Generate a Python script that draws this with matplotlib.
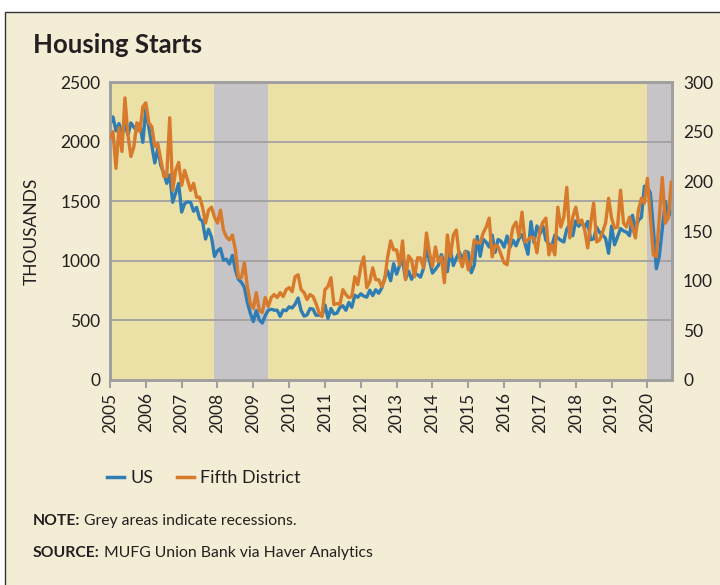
import numpy as np
import matplotlib
matplotlib.use('Agg')
import matplotlib.pyplot as plt
from matplotlib.patches import Rectangle
from matplotlib.lines import Line2D

plt.rcParams['font.family'] = ['Lato', 'DejaVu Sans']

# Monthly data, Jan 2005 - Sep 2020 (thousands of units, SAAR)
start_year = 2005
us = [
    2144, 2207, 2090, 2151, 2065, 2147, 2055, 2156, 2121, 2095, 2150, 1994,  # 2005
    2273, 2119, 1969, 1821, 1942, 1802, 1737, 1650, 1720, 1491, 1570, 1649,  # 2006
    1409, 1480, 1495, 1490, 1415, 1448, 1354, 1330, 1183, 1264, 1197, 1037,  # 2007
    1084, 1103, 1005, 1013, 973, 1046, 923, 844, 820, 777, 652, 560,         # 2008
    490, 582, 505, 478, 540, 585, 594, 586, 585, 534, 588, 581,              # 2009
    614, 604, 636, 687, 583, 536, 546, 599, 594, 543, 545, 539,              # 2010
    630, 517, 600, 554, 561, 608, 623, 585, 650, 610, 711, 694,              # 2011
    723, 704, 695, 753, 708, 757, 728, 771, 854, 915, 833, 976,              # 2012
    888, 962, 1005, 847, 914, 845, 898, 883, 863, 936, 1105, 1003,           # 2013
    897, 928, 963, 1052, 984, 909, 1095, 961, 1023, 1074, 1008, 1080,        # 2014
    1071, 900, 963, 1205, 1038, 1180, 1156, 1116, 1216, 1071, 1179, 1163,    # 2015
    1114, 1208, 1113, 1173, 1126, 1187, 1220, 1146, 1055, 1328, 1152, 1292,  # 2016
    1226, 1289, 1174, 1140, 1125, 1215, 1192, 1172, 1158, 1265, 1303, 1210,  # 2017
    1335, 1290, 1327, 1276, 1329, 1177, 1184, 1280, 1237, 1217, 1187, 1063,  # 2018
    1291, 1134, 1203, 1270, 1251, 1240, 1211, 1382, 1269, 1340, 1365, 1626,  # 2019
    1617, 1567, 1269, 934, 1038, 1273, 1497, 1373, 1415,                     # 2020
]
fifth = [
    244, 250, 213, 254, 230, 284, 247, 225, 235, 259, 250, 275,  # 2005
    279, 259, 255, 235, 238, 222, 205, 205, 264, 191, 211, 219,  # 2006
    196, 211, 201, 191, 198, 184, 184, 174, 158, 171, 174, 164,  # 2007
    158, 171, 151, 144, 141, 146, 131, 103, 103, 118, 94, 77,    # 2008
    72, 88, 70, 68, 83, 74, 83, 86, 83, 88, 84, 91,              # 2009
    93, 89, 104, 106, 91, 88, 81, 86, 84, 77, 68, 64,            # 2010
    91, 94, 103, 76, 77, 76, 91, 86, 83, 84, 104, 96,            # 2011
    114, 124, 93, 99, 113, 101, 101, 94, 101, 124, 140, 131,     # 2012
    131, 116, 140, 101, 125, 121, 104, 123, 123, 113, 148, 128,  # 2013
    114, 134, 119, 124, 98, 146, 124, 146, 151, 124, 114, 129,   # 2014
    111, 119, 141, 138, 138, 148, 154, 163, 124, 136, 134, 126,  # 2015
    118, 116, 138, 154, 159, 144, 169, 139, 141, 144, 143, 128,  # 2016
    151, 159, 163, 126, 136, 126, 174, 154, 164, 194, 143, 164,  # 2017
    174, 158, 161, 151, 133, 158, 178, 139, 141, 149, 158, 183,  # 2018
    163, 153, 154, 191, 158, 154, 164, 154, 143, 171, 183, 178,  # 2019
    203, 164, 126, 124, 164, 204, 158, 163, 199,                 # 2020
]
recessions = [(2007 + 11 / 12, 2009.42), (2020.0, 2020.75)]
year_ticks = list(range(2005, 2021))

x = start_year + np.arange(len(us)) / 12.0

cream = '#F4EDD6'
plot_bg = '#EBE0A6'
grey_band = '#C6C4C6'
axis_grey = '#A0A0A0'
blue = '#2F7DB3'
orange = '#D77A2C'
text_col = '#231F20'

fig = plt.figure(figsize=(7.2, 5.85), dpi=100, facecolor='white')
frame = Rectangle((5 / 720, -0.02), 1.0, 1 - 12 / 585 + 0.02,
                  transform=fig.transFigure, facecolor=cream,
                  edgecolor='#333333', linewidth=1.0, zorder=-10)
fig.patches.append(frame)

ax = fig.add_axes([110 / 720, 1 - 380 / 585, 562 / 720, 298 / 585])
ax.set_facecolor(plot_bg)
for a, b in recessions:
    ax.axvspan(a, b, color=grey_band, lw=0, zorder=0)
ax.set_axisbelow(True)
ax.grid(axis='y', color=axis_grey, lw=1.3, zorder=1)
ax.plot(x, us, color=blue, lw=2.4, zorder=3)
ax.set_xlim(2005, 2005 + 188 / 12 + 0.02)
ax.set_ylim(0, 2500)
ax.set_yticks([0, 500, 1000, 1500, 2000, 2500])
ax.set_xticks(year_ticks)
ax.set_xticklabels([str(y) for y in year_ticks], rotation=90)
ax.tick_params(axis='x', length=6, width=1.5, color=axis_grey, labelsize=12.5,
               labelcolor=text_col, pad=3)
ax.tick_params(axis='y', length=0, labelsize=12.5, labelcolor=text_col, pad=7)
for s in ax.spines.values():
    s.set_color(axis_grey)
    s.set_linewidth(2)
ax.set_ylabel('THOUSANDS', fontsize=12.5, color=text_col)
ax.yaxis.set_label_coords(-0.125, 0.5)

ax2 = ax.twinx()
ax2.plot(x, fifth, color=orange, lw=2.4, zorder=4)
ax2.set_ylim(0, 300)
ax2.set_yticks([0, 50, 100, 150, 200, 250, 300])
ax2.tick_params(axis='y', length=0, labelsize=12.5, labelcolor=text_col, pad=8)
for s in ax2.spines.values():
    s.set_color(axis_grey)
    s.set_linewidth(2)

fig.text(33 / 720, 1 - 53 / 585, 'Housing Starts', fontsize=18.5, fontweight='bold',
         color=text_col, va='baseline')

handles = [Line2D([], [], color=blue, lw=2.5), Line2D([], [], color=orange, lw=2.5)]
fig.legend(handles, ['US', 'Fifth District'], loc='center left',
           bbox_to_anchor=(107 / 720, 1 - 478 / 585), ncol=2, frameon=False,
           fontsize=13, handlelength=0.95, handletextpad=0.35, columnspacing=1.3,
           borderpad=0, borderaxespad=0, labelcolor=text_col)

renderer = fig.canvas.get_renderer()
for label, rest, ypix in [('NOTE:', ' Grey areas indicate recessions.', 525),
                          ('SOURCE:', ' MUFG Union Bank via Haver Analytics', 557)]:
    t = fig.text(33 / 720, 1 - ypix / 585, label, fontsize=11.3, fontweight='bold',
                 color=text_col, va='baseline')
    bb = t.get_window_extent(renderer)
    fig.text(bb.x1 / 720, 1 - ypix / 585, rest, fontsize=11.3, color=text_col,
             va='baseline')

fig.savefig('out.png', dpi=100, facecolor='white')
